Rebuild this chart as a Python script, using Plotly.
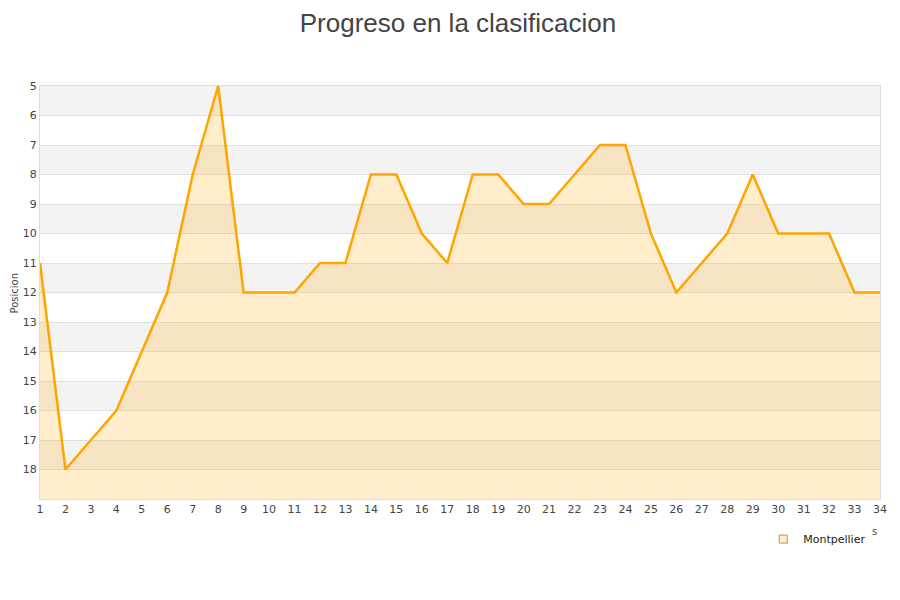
import plotly.graph_objects as go

jornadas = list(range(1, 35))
posiciones = [11, 18, 17, 16, 14, 12, 8, 5, 12, 12, 12, 11, 11, 8, 8, 10, 11, 8, 8, 9,
              9, 8, 7, 7, 10, 12, 11, 10, 8, 10, 10, 10, 12, 12]
equipo = "Montpellier"
y_ticks = list(range(5, 19))

ORANGE = "#ffa500"
FILL = "rgba(255,165,0,0.2)"

fig = go.Figure()
fig.add_trace(go.Scatter(x=jornadas, y=[19] * len(jornadas), mode="lines",
                         line=dict(width=0), showlegend=False, hoverinfo="skip"))
fig.add_trace(go.Scatter(x=jornadas, y=posiciones, mode="lines", fill="tonexty",
                         fillcolor=FILL, line=dict(color=ORANGE, width=2.5),
                         showlegend=False, name=equipo))
fig.add_trace(go.Scatter(x=[None], y=[None], mode="markers", name=equipo,
                         marker=dict(symbol="square", size=8, color="#ffedcc",
                                     line=dict(color="#b8925a", width=1))))

shapes = []
for k in range(5, 19, 2):
    shapes.append(dict(type="rect", xref="paper", yref="y", x0=0, x1=1, y0=k, y1=k + 1,
                       fillcolor="#f3f3f3", line=dict(width=0), layer="below"))

fig.update_layout(
    width=900, height=600,
    paper_bgcolor="white", plot_bgcolor="white",
    margin=dict(l=32, r=28, t=78, b=109, autoexpand=False),
    title=dict(text="Progreso en la clasificacion", x=0.5, xanchor="center", y=0.976,
               yanchor="middle", font=dict(family="Liberation Sans, Arial, sans-serif",
                                           size=26, color="#444")),
    font=dict(family="DejaVu Sans, sans-serif", size=11, color="#444"),
    shapes=shapes,
    showlegend=True,
    legend=dict(x=0.861, y=-0.097, xanchor="left", yanchor="middle", bgcolor="rgba(0,0,0,0)",
                font=dict(size=11, color="#222"), itemwidth=30),
    xaxis=dict(range=[1, 34], tickvals=jornadas, showgrid=False, zeroline=False,
               showline=True, linecolor="#dddddd", mirror=True, ticks="",
               automargin=False, tickfont=dict(size=11, color="#444")),
    yaxis=dict(range=[19, 5], tickvals=y_ticks, showgrid=True, gridcolor="#e0e0e0",
               zeroline=False, showline=True, linecolor="#dddddd", mirror=True, ticks="",
               automargin=False, tickfont=dict(size=11, color="#444")),
)
fig.add_annotation(x=-0.0298, y=0.5, xref="paper", yref="paper", text="Posicion",
                   textangle=-90, showarrow=False, xanchor="center", yanchor="middle",
                   font=dict(size=10, color="#444"))
fig.add_annotation(x=0.994, y=-0.0775, xref="paper", yref="paper", text="s",
                   showarrow=False, xanchor="center", yanchor="middle",
                   font=dict(size=10, color="#444"))

fig.write_html("out.html")
